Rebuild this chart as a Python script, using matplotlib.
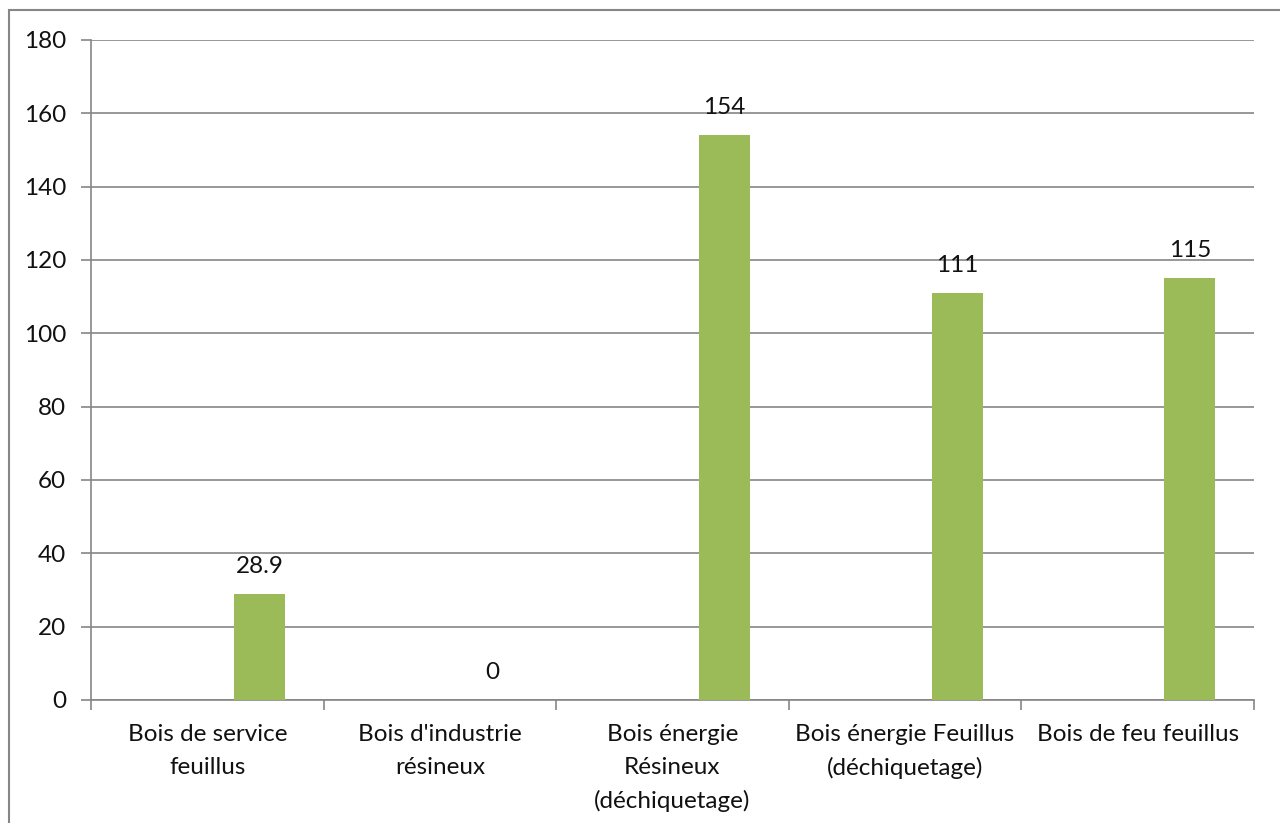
import matplotlib.pyplot as plt
from matplotlib.patches import Rectangle
import numpy as np

categories = ["Bois de service\nfeuillus", "Bois d'industrie\nrésineux",
              "Bois énergie\nRésineux\n(déchiquetage)",
              "Bois énergie Feuillus\n(déchiquetage)", "Bois de feu feuillus"]
values = [28.9, 0, 154, 111, 115]
labels = ["28.9", "0", "154", "111", "115"]

plt.rcParams['font.family'] = ['Lato', 'DejaVu Sans']
grey = '#868686'
fs = 17.5

fig = plt.figure(figsize=(12.8, 8.23), dpi=100)
ax = fig.add_axes([91 / 1280, 1 - 700 / 823, (1254 - 91) / 1280, (700 - 40) / 823])

x = np.arange(len(categories))
ax.bar(x + 0.224, values, width=0.22, color='#9BBB59', zorder=3)
for xi, v, lab in zip(x, values, labels):
    ax.annotate(lab, (xi + 0.224, v), xytext=(0, 20), textcoords='offset points',
                ha='center', va='center', fontsize=fs, color='#111111')

ax.set_xlim(-0.5, len(categories) - 0.5)
ax.set_ylim(0, 180)
ax.set_yticks(range(0, 181, 20))
ax.yaxis.grid(True, color=grey, lw=1.2, zorder=0)
ax.set_xticks(np.arange(-0.5, len(categories)))
ax.set_xticklabels([])
ax.set_xticks(x, minor=True)
ax.set_xticklabels(categories, minor=True, fontsize=fs, linespacing=1.7, va='top',
                   color='#111111')
ax.tick_params(axis='x', which='minor', length=0, pad=17)
ax.tick_params(axis='x', which='major', length=7, color=grey, width=1.2)
ax.tick_params(axis='y', length=7, color=grey, width=1.2, labelsize=fs, pad=11,
               labelcolor='#111111')

for s in ['top', 'right']:
    ax.spines[s].set_visible(False)
for s in ['left', 'bottom']:
    ax.spines[s].set_color(grey)
    ax.spines[s].set_linewidth(1.2)

fig.patches.append(Rectangle((9 / 1280, -0.1), 1.2, 0.1 + (823 - 10) / 823,
                             transform=fig.transFigure, fill=False,
                             edgecolor=grey, lw=1.5))

fig.savefig('out.png', dpi=100)
